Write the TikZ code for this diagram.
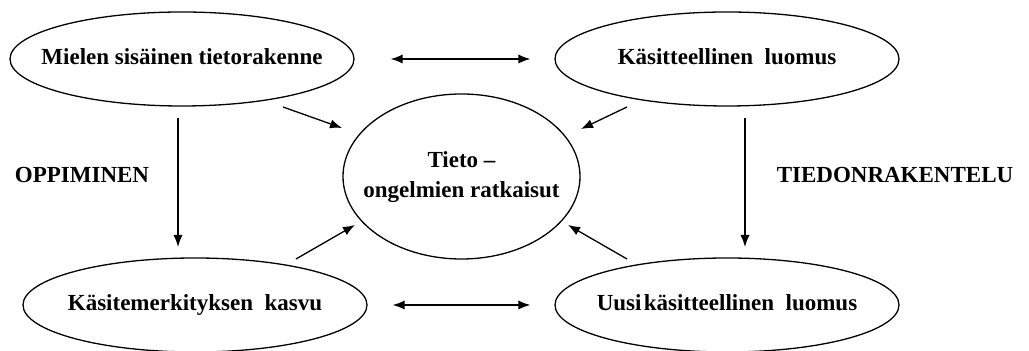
\documentclass[tikz,border=0pt]{standalone}
\usepackage{fontspec}
\setmainfont{Liberation Serif}
\usetikzlibrary{shapes.geometric,arrows.meta}
\newcommand{\zbox}[1]{\makebox[0pt]{\begin{tabular}{@{}c@{}}#1\end{tabular}}}
\tikzset{
  oval/.style={draw, ellipse, line width=0.65pt, inner sep=0pt, font=\bfseries\fontsize{11.5}{15}\selectfont},
  big/.style={oval, minimum width=172pt, minimum height=47pt},
  mid/.style={oval, minimum width=118.5pt, minimum height=82.5pt},
  conn/.style={line width=0.65pt, -{Latex[length=6pt,width=4.6pt]}},
  dconn/.style={line width=0.65pt, {Latex[length=6pt,width=4.6pt]}-{Latex[length=6pt,width=4.6pt]}},
  lbl/.style={font=\bfseries\fontsize{11.5}{15}\selectfont, inner sep=0pt}
}
\begin{document}
\begin{tikzpicture}[x=0.5pt,y=-0.5pt]
\useasboundingbox (0,0) rectangle (1029,351);
\node[big] (tl) at (182,59) {\zbox{Mielen sisäinen tietorakenne}};
\node[big] (tr) at (727,59) {\zbox{Käsitteellinen\ \ luomus}};
\node[mid] (c) at (461.5,176.5) {\zbox{Tieto –\\ongelmien ratkaisut}};
\node[big] (bl) at (195,305) {\zbox{Käsitemerkityksen\ \ kasvu}};
\node[big] (br) at (727,305) {\zbox{Uusi\hspace{0.1em}käsitteellinen\ \ luomus}};
\node[lbl] (opp) at (82,175) {OPPIMINEN};
\node[lbl] (tied) at (895,175) {TIEDONRAKENTELU};
% free ends
\coordinate (v1s) at (178,118); \coordinate (v1e) at (178,247);
\coordinate (v2s) at (745,118); \coordinate (v2e) at (745,247);
\coordinate (d1s) at (283,107); \coordinate (d1e) at (342,128);
\coordinate (d2s) at (627,107); \coordinate (d2e) at (581,129);
\coordinate (d3s) at (296,259); \coordinate (d3e) at (355,225);
\coordinate (d4s) at (627,259); \coordinate (d4e) at (568,225);
\draw[dconn, shorten <=18pt, shorten >=12pt] (tl) -- (tr);
\draw[dconn, shorten <=12.5pt, shorten >=12pt] (bl.east) -- (br.west);
\draw[conn] (v1s) -- (v1e);
\draw[conn] (v2s) -- (v2e);
\draw[conn] (d1s) -- (d1e);
\draw[conn] (d2s) -- (d2e);
\draw[conn] (d3s) -- (d3e);
\draw[conn] (d4s) -- (d4e);
\end{tikzpicture}
\end{document}
